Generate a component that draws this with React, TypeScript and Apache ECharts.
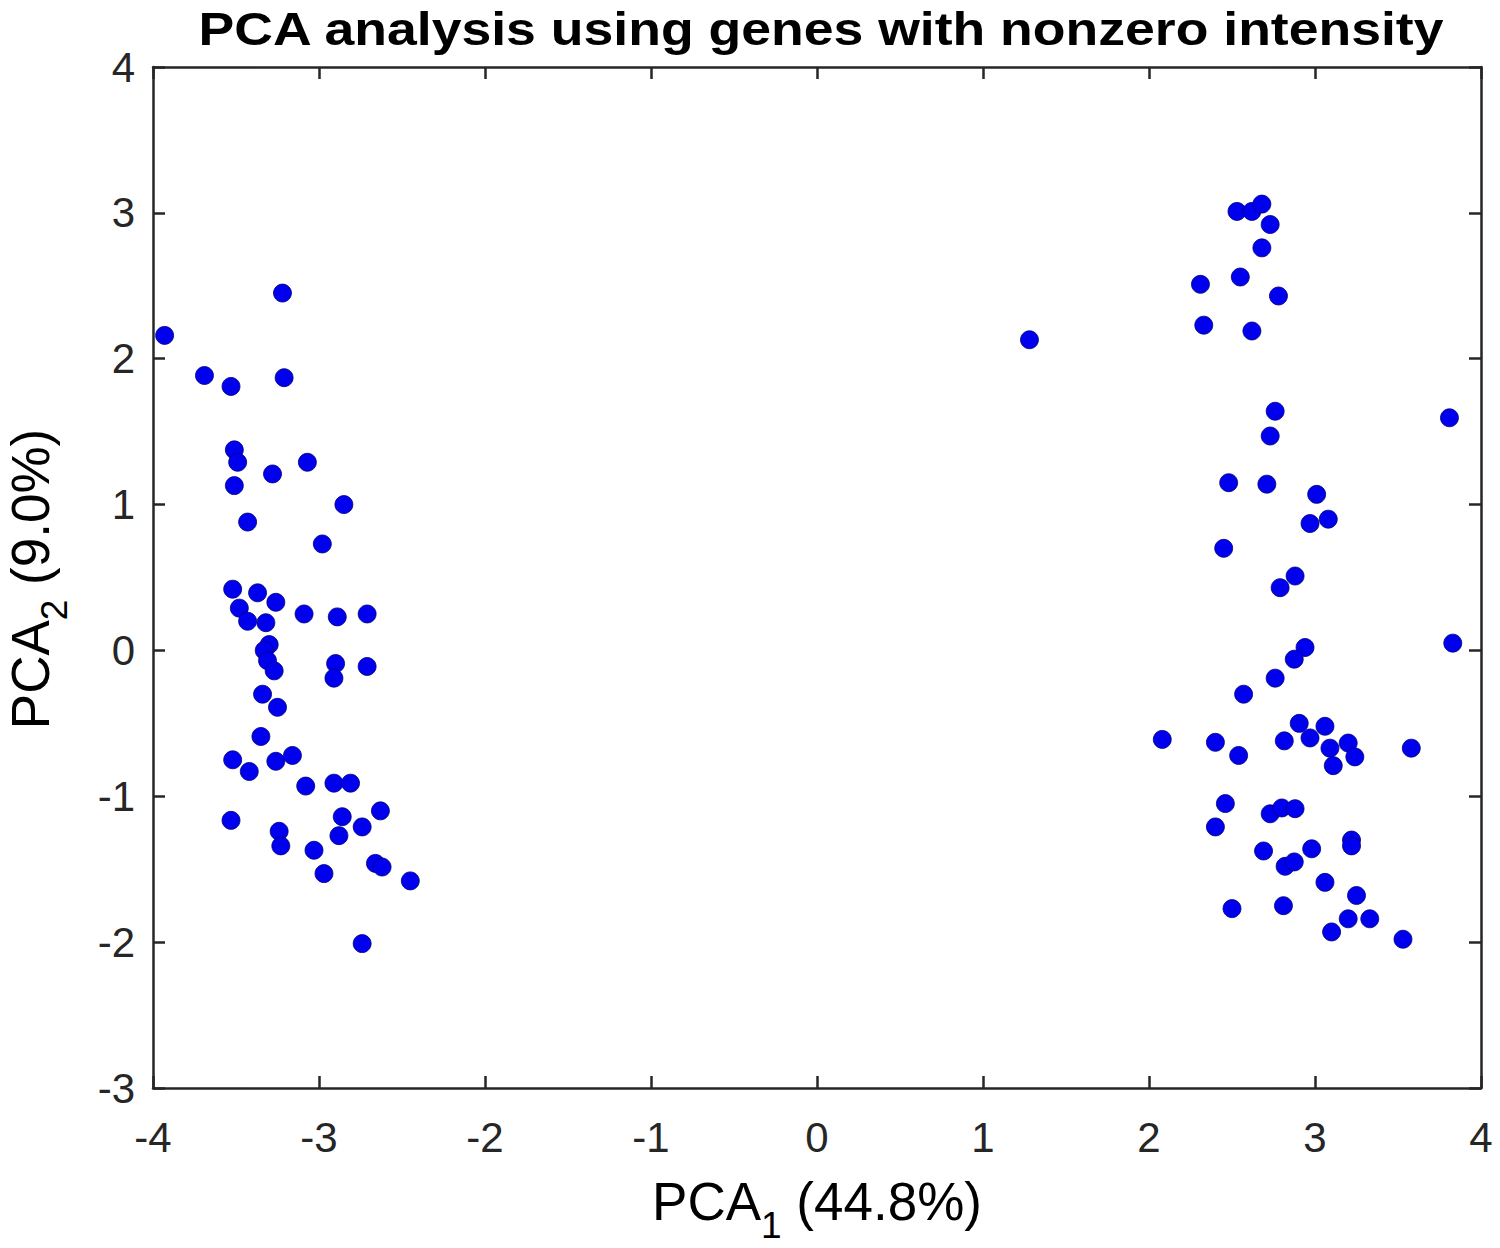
import React, { useEffect, useRef } from "react";
import * as echarts from "echarts";

const titleText = "PCA analysis using genes with nonzero intensity";
const xName = ["PCA", "1", " (44.8%)"];
const yName = ["PCA", "2", " (9.0%)"];
const xTicks = { min: -4, max: 4, step: 1 };
const yTicks = { min: -3, max: 4, step: 1 };

const pca1 = [
  -3.22, -3.93, -3.69, -3.53, -3.21, -3.51, -3.49, -3.07, -3.28, -3.51, -2.85, -3.43, -2.98,
  -3.52, -3.37, -3.26, -3.48, -3.43, -3.32, -3.09, -2.89, -2.71, -3.30, -3.33, -3.31, -3.27,
  -2.90, -2.91, -2.71, -3.34, -3.25, -3.35, -3.52, -3.42, -3.26, -3.16, -3.08, -2.91, -2.81,
  -3.53, -3.24, -3.23, -2.86, -2.88, -2.74, -2.63, -3.03, -2.97, -2.66, -2.62, -2.45, -2.74,
  1.28, 2.53, 2.62, 2.68, 2.73, 2.68, 2.55, 2.31, 2.78, 2.33, 2.62, 2.76, 3.81, 2.73, 2.48,
  2.71, 3.01, 2.97, 3.08, 2.45, 2.88, 2.79, 3.83, 2.94, 2.875, 2.76, 2.57, 2.08, 2.40, 2.54,
  2.815, 2.905, 2.97, 3.06, 3.09, 3.11, 3.20, 3.24, 3.58, 2.46, 2.40, 2.73, 2.80, 2.88, 2.69,
  2.82, 2.875, 2.98, 3.22, 3.22, 3.06, 3.25, 2.50, 2.81, 3.20, 3.33, 3.10, 3.53,
];
const pca2 = [
  2.45, 2.16, 1.885, 1.81, 1.87, 1.375, 1.29, 1.29, 1.21, 1.13, 1.0, 0.88, 0.73,
  0.42, 0.395, 0.33, 0.29, 0.2, 0.19, 0.25, 0.23, 0.25, 0.04, 0.0, -0.07, -0.14,
  -0.09, -0.19, -0.11, -0.3, -0.39, -0.59, -0.75, -0.83, -0.76, -0.72, -0.93, -0.91, -0.91,
  -1.165, -1.24, -1.34, -1.14, -1.27, -1.21, -1.1, -1.37, -1.53, -1.46, -1.485, -1.58, -2.01,
  2.13, 3.01, 3.01, 3.06, 2.92, 2.76, 2.56, 2.51, 2.43, 2.23, 2.19, 1.64, 1.595, 1.47, 1.15,
  1.14, 1.07, 0.87, 0.9, 0.7, 0.51, 0.43, 0.05, 0.02, -0.06, -0.19, -0.3, -0.61, -0.63, -0.72,
  -0.62, -0.5, -0.6, -0.52, -0.67, -0.79, -0.635, -0.73, -0.67, -1.05, -1.21, -1.12, -1.08, -1.085, -1.375,
  -1.48, -1.45, -1.36, -1.3, -1.34, -1.59, -1.68, -1.77, -1.75, -1.84, -1.84, -1.93, -1.98,
];

const AXIS_COLOR = "#262626";
const FONT = "'Liberation Sans', Arial, Helvetica, sans-serif";

function makeAxis(kind: "x" | "y", position: string, showLabels: boolean) {
  const t = kind === "x" ? xTicks : yTicks;
  return {
    type: "value",
    min: t.min,
    max: t.max,
    interval: t.step,
    position,
    axisLine: { show: true, onZero: false, lineStyle: { color: AXIS_COLOR, width: 2.5 } },
    axisTick: { show: true, inside: true, length: 12, lineStyle: { color: AXIS_COLOR, width: 2.5 } },
    axisLabel: {
      show: showLabels,
      fontSize: 42,
      color: AXIS_COLOR,
      fontFamily: FONT,
      margin: kind === "x" ? 28 : 18,
    },
    splitLine: { show: false },
  };
}

export default function App() {
  const ref = useRef<HTMLDivElement>(null);
  useEffect(() => {
    if (!ref.current) return;
    const chart = echarts.init(ref.current, null, { renderer: "svg" });
    const data = pca1.map((x, i) => [x, pca2[i]]);
    const rich = {
      m: { fontSize: 53, fontFamily: FONT, color: AXIS_COLOR, lineHeight: 86, verticalAlign: "middle" },
      s: { fontSize: 37, fontFamily: FONT, color: AXIS_COLOR, lineHeight: 36, verticalAlign: "bottom" },
    };
    const nameText = (n: string[]) => `{m|${n[0]}}{s|${n[1]}}{m|${n[2]}}`;
    chart.setOption({
      animation: false,
      backgroundColor: "#ffffff",
      grid: { left: 153, top: 67, width: 1328, height: 1021, containLabel: false },
      xAxis: [makeAxis("x", "bottom", true), makeAxis("x", "top", false)],
      yAxis: [makeAxis("y", "left", true), makeAxis("y", "right", false)],
      series: [
        {
          type: "scatter",
          xAxisIndex: 0,
          yAxisIndex: 0,
          data,
          symbol: "circle",
          symbolSize: 18,
          itemStyle: { color: "#0000ee", borderColor: "#00007a", borderWidth: 0.8, opacity: 1 },
        },
      ],
      graphic: [
        {
          type: "text",
          x: 821,
          y: 29,
          scaleX: 1.14,
          style: {
            text: titleText,
            font: `bold 47px ${FONT}`,
            fill: "#000000",
            align: "center",
            verticalAlign: "middle",
          },
        },
        {
          type: "text",
          x: 817,
          y: 1201,
          style: {
            text: nameText(xName),
            rich,
            align: "center",
            verticalAlign: "middle",
          },
        },
        {
          type: "text",
          x: 30,
          y: 579,
          rotation: Math.PI / 2,
          style: {
            text: nameText(yName),
            rich,
            align: "center",
            verticalAlign: "middle",
          },
        },
      ],
    });
    return () => chart.dispose();
  }, []);
  return (
    <div
      ref={ref}
      style={{ position: "absolute", left: 0, top: 0, width: 1500, height: 1248, background: "#fff" }}
    />
  );
}
